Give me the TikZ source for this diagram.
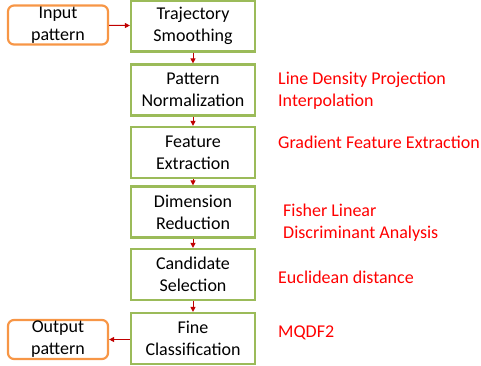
\documentclass[tikz,border=0pt]{standalone}
\usepackage{fontspec}
\setmainfont{Carlito}
\usepackage{tikz}
\usetikzlibrary{arrows.meta, positioning}

\definecolor{boxgreen}{RGB}{155,187,89}
\definecolor{boxorange}{RGB}{247,150,70}
\definecolor{linkred}{RGB}{192,0,0}

\begin{document}
\begin{tikzpicture}[x=1pt, y=-1pt,
    stage/.style={draw=boxgreen, line width=2.2pt, fill=white, minimum width=124pt,
        minimum height=51pt, inner sep=1pt, align=center, font=\fontsize{18}{22}\selectfont},
    io/.style={draw=boxorange, line width=2.2pt, rounded corners=6pt, minimum width=100pt,
        minimum height=39pt, inner sep=1pt, align=center, font=\fontsize{18}{22}\selectfont},
    note/.style={anchor=west, align=left, text=red, inner sep=1pt,
        font=\fontsize{18}{22}\selectfont},
    link/.style={draw=linkred, line width=1pt, -{Triangle[length=5pt, width=5pt]}}]
    % Canvas
    \useasboundingbox (0,0) rectangle (481,366);

    % Processing stages
    \node[stage] (smooth) at (193, 26) {Trajectory\\Smoothing};
    \node[stage] (norm) at (193, 90) {Pattern\\Normalization};
    \node[stage] (feat) at (193, 152.5) {Feature\\Extraction};
    \node[stage] (dim) at (193, 212) {Dimension\\Reduction};
    \node[stage] (cand) at (193, 274.5) {Candidate\\Selection};
    \node[stage] (fine) at (193, 338.5) {Fine\\Classification};

    % Input / output
    \node[io] (input) at (58, 25) {Input\\pattern};
    \node[io] (output) at (58, 339.5) {Output\\pattern};

    % Methods
    \node[note] (ldp) at (277, 91) {Line Density Projection\\Interpolation};
    \node[note] (grad) at (277, 142) {Gradient Feature Extraction};
    \node[note] (flda) at (282, 223) {Fisher Linear\\Discriminant Analysis};
    \node[note] (eucl) at (277, 277) {Euclidean distance};
    \node[note] (mqdf) at (277, 333) {MQDF2};

    % Flow
    \draw[link] (input) -- (smooth);
    \draw[link] (smooth) -- (norm);
    \draw[link] (norm) -- (feat);
    \draw[link] (feat) -- (dim);
    \draw[link] (dim) -- (cand);
    \draw[link] (cand) -- (fine);
    \draw[link] (fine.west |- output) -- (output);
\end{tikzpicture}
\end{document}
